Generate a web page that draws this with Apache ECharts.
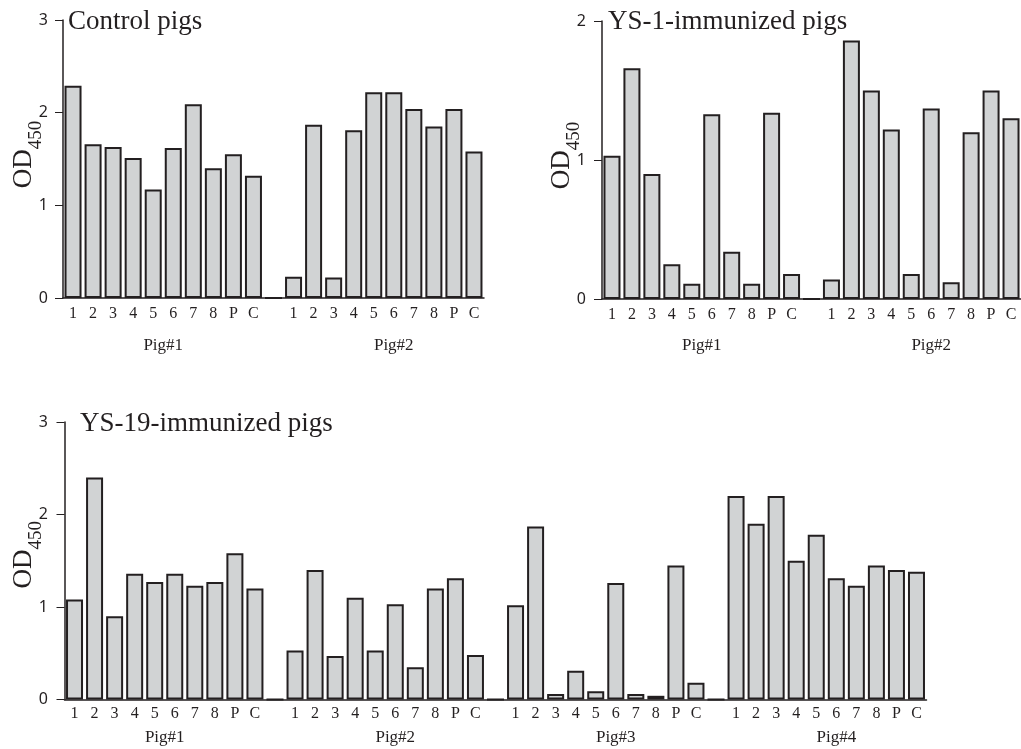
<!DOCTYPE html>
<html>
<head>
<meta charset="utf-8">
<title>OD450 per pig</title>
<script src="https://cdn.jsdelivr.net/npm/echarts@6/dist/echarts.min.js"></script>
<style>
  html, body { margin: 0; padding: 0; background: #fff; }
  #chart { width: 1021px; height: 749px; }
</style>
</head>
<body>
<div id="chart"></div>
<script>
// labels under every bar
const wells = ['1', '2', '3', '4', '5', '6', '7', '8', 'P', 'C']

// Control pigs
const controlPig1 = [2.29, 1.66, 1.63, 1.51, 1.17, 1.62, 2.09, 1.40, 1.55, 1.32]
const controlPig2 = [0.23, 1.87, 0.22, 1.81, 2.22, 2.22, 2.04, 1.85, 2.04, 1.58]

// YS-1-immunized pigs
const ys1Pig1 = [1.03, 1.66, 0.90, 0.25, 0.11, 1.33, 0.34, 0.11, 1.34, 0.18]
const ys1Pig2 = [0.14, 1.86, 1.50, 1.22, 0.18, 1.37, 0.12, 1.20, 1.50, 1.30]

// YS-19-immunized pigs
const ys19Pig1 = [1.08, 2.40, 0.90, 1.36, 1.27, 1.36, 1.23, 1.27, 1.58, 1.20]
const ys19Pig2 = [0.53, 1.40, 0.47, 1.10, 0.53, 1.03, 0.35, 1.20, 1.31, 0.48]
const ys19Pig3 = [1.02, 1.87, 0.06, 0.31, 0.09, 1.26, 0.06, 0.04, 1.45, 0.18]
const ys19Pig4 = [2.20, 1.90, 2.20, 1.50, 1.78, 1.31, 1.23, 1.45, 1.40, 1.38]

const pigNames = ['Pig#1', 'Pig#2', 'Pig#3', 'Pig#4']

const ink = '#231f20'
const serif = 'Liberation Serif'

// one panel each
const panels = [
    {title: 'Control pigs', pigs: [controlPig1, controlPig2], max: 3,
     grid: {left: 63, top: 20, width: 421, height: 278}, axisOffset: 2,
     titlePos: {left: 68, top: 8}, labelMargin: 8, pigMargin: 39, namePad: 9},
    {title: 'YS-1-immunized pigs', pigs: [ys1Pig1, ys1Pig2], max: 2,
     grid: {left: 602, top: 21, width: 419, height: 278}, axisOffset: 3,
     titlePos: {left: 608, top: 8}, labelMargin: 8, pigMargin: 38, namePad: 9},
    {title: 'YS-19-immunized pigs', pigs: [ys19Pig1, ys19Pig2, ys19Pig3, ys19Pig4], max: 3,
     grid: {left: 64.5, top: 422, width: 862, height: 277.5}, axisOffset: 3.5,
     titlePos: {left: 80, top: 410}, labelMargin: 6, pigMargin: 30, namePad: 12}
]

// put the pigs of one panel side by side, one empty slot between two pigs
function joinPigs(pigs) {
    let cats = []
    let vals = []
    for (let i = 0; i < pigs.length; i++) {
        if (i > 0) {
            cats.push('')
            vals.push(0)
        }
        cats = cats.concat(wells)
        vals = vals.concat(pigs[i])
    }
    return {cats, vals}
}

// where the pig name sits, in slots (the later names sit a bit to the right in the figure)
function pigLabelAt(k) {
    return 11 * k + (k > 0 ? 5.5 : 5)
}

function buildOption() {
    let option = {
        animation: false,
        backgroundColor: '#fff',
        title: [], grid: [], xAxis: [], yAxis: [], series: []
    }
    panels.forEach((p, i) => {
        let joined = joinPigs(p.pigs)
        option.title.push({
            text: p.title, left: p.titlePos.left, top: p.titlePos.top, padding: 0,
            textStyle: {fontFamily: serif, fontSize: 27, fontWeight: 'normal', color: ink}
        })
        option.grid.push(Object.assign({outerBoundsMode: 'none'}, p.grid))
        // bar labels
        option.xAxis.push({
            gridIndex: i, type: 'category', data: joined.cats, position: 'bottom',
            axisLine: {lineStyle: {color: ink, width: 1.5}},
            axisTick: {show: false},
            axisLabel: {interval: 0, margin: p.labelMargin, fontFamily: serif, fontSize: 16, color: ink}
        })
        // pig names under each group
        option.xAxis.push({
            gridIndex: i, type: 'value', position: 'bottom', min: 0, max: joined.cats.length, interval: 0.5,
            axisLine: {show: false}, axisTick: {show: false}, splitLine: {show: false},
            axisLabel: {
                margin: p.pigMargin, fontFamily: serif, fontSize: 17, color: ink,
                formatter: (v) => {
                    for (let k = 0; k < p.pigs.length; k++) {
                        if (v === pigLabelAt(k)) return pigNames[k]
                    }
                    return ''
                }
            }
        })
        option.yAxis.push({
            gridIndex: i, type: 'value', min: 0, max: p.max, interval: 1, offset: p.axisOffset,
            axisLine: {show: true, lineStyle: {color: ink, width: 1.5}},
            axisTick: {show: true, length: 8, lineStyle: {color: ink, width: 1}},
            axisLabel: {margin: 13, fontFamily: 'Noto Sans', fontSize: 16, color: ink},
            splitLine: {show: false},
            name: '{od|OD}{sub|450}', nameLocation: 'middle', nameRotate: 90, nameGap: 15,
            nameMoveOverlap: false,
            nameTextStyle: {
                padding: [0, 0, 0, p.namePad],
                rich: {
                    od: {fontFamily: serif, fontSize: 27, lineHeight: 45, verticalAlign: 'middle', color: ink},
                    sub: {fontFamily: serif, fontSize: 19, lineHeight: 17, verticalAlign: 'bottom', color: ink}
                }
            }
        })
        option.series.push({
            type: 'bar', xAxisIndex: 2 * i, yAxisIndex: i, data: joined.vals,
            barWidth: 17, silent: true,
            itemStyle: {color: '#d1d3d4', borderColor: ink, borderWidth: 2}
        })
    })
    return option
}

let chart = echarts.init(document.getElementById('chart'), null, {renderer: 'canvas'})
chart.setOption(buildOption())
</script>
</body>
</html>
